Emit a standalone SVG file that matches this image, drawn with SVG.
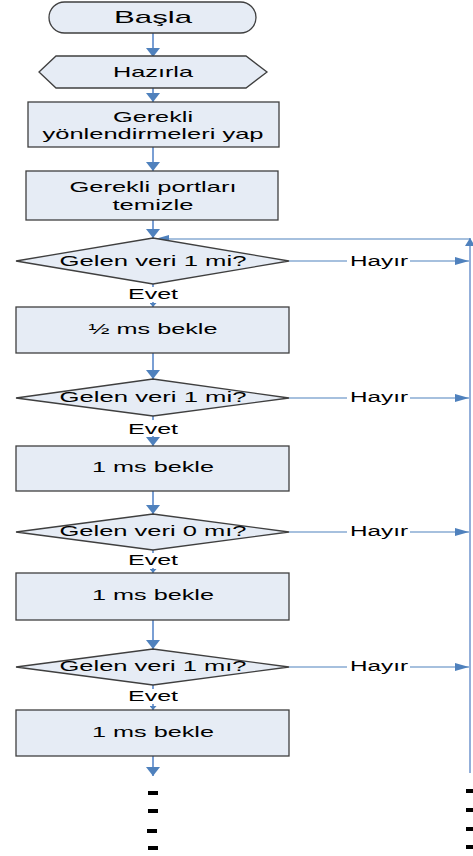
<svg xmlns="http://www.w3.org/2000/svg" width="473" height="856" viewBox="0 0 473 856">
<style>
.shape{fill:#E6ECF5;stroke:#3F3F3F;stroke-width:1.3}
.t{font-family:"Liberation Sans",Arial,sans-serif;font-size:15px;fill:#000;text-anchor:middle}
.lbl{font-family:"Liberation Sans",Arial,sans-serif;font-size:14px;fill:#000;text-anchor:middle}
.v{stroke:#7A9FD4;stroke-width:2;fill:none}
.h{stroke:#4F81BD;stroke-width:1.2;fill:none}
.bg{fill:#fff}
.dash{fill:#000}
</style>
<defs>
<marker id="ah" viewBox="0 0 9 14" markerWidth="9" markerHeight="14" refX="9" refY="7" orient="auto" markerUnits="userSpaceOnUse"><path d="M0,0 L9,7 L0,14 z" fill="#4F81BD"/></marker>
<marker id="ahs" viewBox="0 0 4 7" markerWidth="4" markerHeight="7" refX="4" refY="3.5" orient="auto" markerUnits="userSpaceOnUse"><path d="M0,0 L4,3.5 L0,7 z" fill="#4F81BD"/></marker>
<marker id="ah2" viewBox="0 0 14 8" markerWidth="14" markerHeight="8" refX="14" refY="4" orient="auto" markerUnits="userSpaceOnUse"><path d="M0,0 L14,4 L0,8 z" fill="#4F81BD"/></marker>
<marker id="ahu" viewBox="0 0 8 10" markerWidth="8" markerHeight="10" refX="8" refY="5" orient="auto" markerUnits="userSpaceOnUse"><path d="M0,0 L8,5 L0,10 z" fill="#4F81BD"/></marker>
</defs>

<g id="connectors">
<path class="v" d="M153,33 V57" marker-end="url(#ah)"/>
<path class="v" d="M153,88 V102" marker-end="url(#ah)"/>
<path class="v" d="M153,147 V171" marker-end="url(#ah)"/>
<path class="v" d="M153,220 V238" marker-end="url(#ah)"/>
<path class="v" d="M153,284 V307" marker-end="url(#ahs)"/>
<path class="v" d="M153,353 V379" marker-end="url(#ah)"/>
<path class="v" d="M153,416 V446" marker-end="url(#ah)"/>
<path class="v" d="M153,491 V514" marker-end="url(#ah)"/>
<path class="v" d="M153,550 V573" marker-end="url(#ahs)"/>
<path class="v" d="M153,620 V649" marker-end="url(#ah)"/>
<path class="v" d="M153,685 V710" marker-end="url(#ahs)"/>
<path class="v" d="M153,756 V776" marker-end="url(#ah)"/>
<path class="h" d="M289,261 H469" marker-end="url(#ah2)"/>
<path class="h" d="M289,398 H469" marker-end="url(#ah2)"/>
<path class="h" d="M289,532 H469" marker-end="url(#ah2)"/>
<path class="h" d="M289,667 H469" marker-end="url(#ah2)"/>
<path class="v" d="M470,773 V238" marker-end="url(#ahu)" style="stroke:#6F95CE;stroke-width:1.5"/>
<path class="h" d="M470,239 H155" marker-end="url(#ah2)"/>
<rect class="bg" x="347" y="252" width="63" height="18"/>
<rect class="bg" x="347" y="389" width="63" height="18"/>
<rect class="bg" x="347" y="523" width="63" height="18"/>
<rect class="bg" x="347" y="658" width="63" height="18"/>
<text class="lbl" x="379" y="266" textLength="58" lengthAdjust="spacingAndGlyphs">Hayır</text>
<text class="lbl" x="379" y="402" textLength="58" lengthAdjust="spacingAndGlyphs">Hayır</text>
<text class="lbl" x="379" y="536" textLength="58" lengthAdjust="spacingAndGlyphs">Hayır</text>
<text class="lbl" x="379" y="671" textLength="58" lengthAdjust="spacingAndGlyphs">Hayır</text>
<rect class="bg" x="126" y="287" width="54" height="15"/>
<rect class="bg" x="126" y="420" width="54" height="16"/>
<rect class="bg" x="126" y="553" width="54" height="15"/>
<rect class="bg" x="126" y="689" width="54" height="15"/>
<text class="lbl" x="153" y="299" textLength="50" lengthAdjust="spacingAndGlyphs">Evet</text>
<text class="lbl" x="153" y="434" textLength="50" lengthAdjust="spacingAndGlyphs">Evet</text>
<text class="lbl" x="153" y="565" textLength="50" lengthAdjust="spacingAndGlyphs">Evet</text>
<text class="lbl" x="153" y="701" textLength="50" lengthAdjust="spacingAndGlyphs">Evet</text>
</g>

<g id="basla">
<rect class="shape" x="49" y="2" width="207" height="31" rx="15.5" ry="15.5"/>
<text class="t" x="153" y="23" style="font-size:17px" textLength="78" lengthAdjust="spacingAndGlyphs">Başla</text>
</g>
<g id="hazirla">
<polygon class="shape" points="39,72 56,56 246,56 267,72 246,88 56,88"/>
<text class="t" x="153" y="77" textLength="80" lengthAdjust="spacingAndGlyphs">Hazırla</text>
</g>
<g id="yonlendirme">
<rect class="shape" x="28" y="102" width="251" height="45"/>
<text class="t" x="153" y="122" textLength="80" lengthAdjust="spacingAndGlyphs">Gerekli</text>
<text class="t" x="153" y="139" textLength="221" lengthAdjust="spacingAndGlyphs">yönlendirmeleri yap</text>
</g>
<g id="portlar">
<rect class="shape" x="26" y="171" width="252" height="49"/>
<text class="t" x="153" y="192" textLength="167" lengthAdjust="spacingAndGlyphs">Gerekli portları</text>
<text class="t" x="153" y="210" textLength="81" lengthAdjust="spacingAndGlyphs">temizle</text>
</g>
<g id="karar1">
<polygon class="shape" points="16,261 153,238 289,261 153,284"/>
<text class="t" x="153" y="266" textLength="187" lengthAdjust="spacingAndGlyphs">Gelen veri 1 mi?</text>
</g>
<g id="bekle1">
<rect class="shape" x="16" y="307" width="273" height="46"/>
<text class="t" x="153" y="334" textLength="129" lengthAdjust="spacingAndGlyphs">½ ms bekle</text>
</g>
<g id="karar2">
<polygon class="shape" points="16,398 153,379 289,398 153,416"/>
<text class="t" x="153" y="402" textLength="187" lengthAdjust="spacingAndGlyphs">Gelen veri 1 mi?</text>
</g>
<g id="bekle2">
<rect class="shape" x="16" y="446" width="273" height="45"/>
<text class="t" x="153" y="472" textLength="122" lengthAdjust="spacingAndGlyphs">1 ms bekle</text>
</g>
<g id="karar3">
<polygon class="shape" points="16,532 153,514 289,532 153,550"/>
<text class="t" x="153" y="536" textLength="187" lengthAdjust="spacingAndGlyphs">Gelen veri 0 mı?</text>
</g>
<g id="bekle3">
<rect class="shape" x="16" y="573" width="273" height="47"/>
<text class="t" x="153" y="600" textLength="122" lengthAdjust="spacingAndGlyphs">1 ms bekle</text>
</g>
<g id="karar4">
<polygon class="shape" points="16,667 153,649 289,667 153,685"/>
<text class="t" x="153" y="671" textLength="187" lengthAdjust="spacingAndGlyphs">Gelen veri 1 mı?</text>
</g>
<g id="bekle4">
<rect class="shape" x="16" y="710" width="273" height="46"/>
<text class="t" x="153" y="737" textLength="122" lengthAdjust="spacingAndGlyphs">1 ms bekle</text>
</g>

<g id="dots-left">
<rect class="dash" x="148" y="791" width="10" height="4"/>
<rect class="dash" x="148" y="809" width="10" height="4"/>
<rect class="dash" x="147" y="829" width="10" height="4"/>
<rect class="dash" x="148" y="846" width="10" height="4"/>
</g>
<g id="dots-right">
<rect class="dash" x="466" y="789" width="7" height="4"/>
<rect class="dash" x="466" y="808" width="7" height="4"/>
<rect class="dash" x="466" y="827" width="7" height="4"/>
<rect class="dash" x="466" y="845" width="7" height="4"/>
</g>
</svg>
